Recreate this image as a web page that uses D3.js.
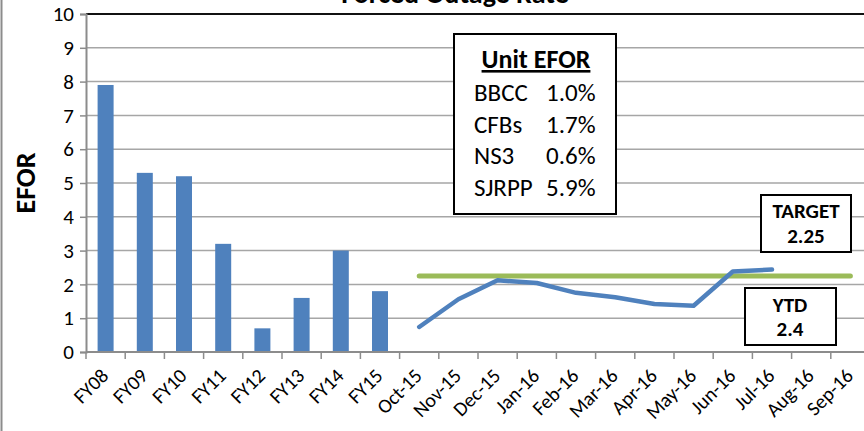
<!DOCTYPE html>
<html>
<head>
<meta charset="utf-8">
<script src="https://cdn.jsdelivr.net/npm/d3@7/dist/d3.min.js"></script>
<style>
  html, body { margin: 0; padding: 0; background: #fff; }
  svg { display: block; font-family: Carlito, Calibri, Lato, "Liberation Sans", sans-serif; }
</style>
</head>
<body>
<svg id="chart" width="864" height="431"></svg>
<script>
const categories = ["FY08","FY09","FY10","FY11","FY12","FY13","FY14","FY15",
  "Oct-15","Nov-15","Dec-15","Jan-16","Feb-16","Mar-16","Apr-16","May-16","Jun-16","Jul-16","Aug-16","Sep-16"];
const barCats = ["FY08","FY09","FY10","FY11","FY12","FY13","FY14","FY15"];
const barValues = [7.9, 5.3, 5.2, 3.2, 0.7, 1.6, 3.0, 1.8];
const lineCats = ["Oct-15","Nov-15","Dec-15","Jan-16","Feb-16","Mar-16","Apr-16","May-16","Jun-16","Jul-16"];
const lineValues = [0.74, 1.56, 2.12, 2.04, 1.75, 1.62, 1.42, 1.37, 2.38, 2.44];
const targetCats = ["Oct-15","Sep-16"];
const targetValue = 2.25;
const ytdValue = 2.4;
const yTicks = [0,1,2,3,4,5,6,7,8,9,10];
const unitNames = ["BBCC","CFBs","NS3","SJRPP"];
const unitValues = ["1.0%","1.7%","0.6%","5.9%"];

const FONT = "Carlito, Calibri, Lato, sans-serif";
const svg = d3.select("#chart");
const mLeft = 86, mRight = 870, mTop = 14, mBottom = 352;

const x = d3.scaleBand().domain(categories).range([mLeft, mRight]).paddingInner(0).paddingOuter(0);
const y = d3.scaleLinear().domain([0, 10]).range([mBottom, mTop]);

// left border
svg.append("line").attr("x1", 1.5).attr("x2", 1.5).attr("y1", 0).attr("y2", 431)
  .attr("stroke", "#8c8c8c").attr("stroke-width", 2);

// title (cut off at the top edge, as in the source)
svg.append("text").attr("x", 455).attr("y", 3).attr("text-anchor", "middle")
  .attr("font-size", 28).attr("font-weight", "bold").attr("fill", "#000")
  .text("Forced Outage Rate");

// gridlines
svg.append("g").selectAll("line").data(yTicks.filter(d => d > 0 && d < 10)).join("line")
  .attr("x1", mLeft).attr("x2", 864).attr("y1", d => y(d)).attr("y2", d => y(d))
  .attr("stroke", "#a6a6a6").attr("stroke-width", 1.5);
svg.append("line").attr("x1", mLeft).attr("x2", 864).attr("y1", y(10)).attr("y2", y(10))
  .attr("stroke", "#111").attr("stroke-width", 2);

// y axis
const yAxis = svg.append("g").attr("transform", `translate(${mLeft},0)`)
  .call(d3.axisLeft(y).tickValues(yTicks).tickSize(6).tickPadding(6).tickFormat(d3.format("d")));
yAxis.select(".domain").attr("stroke", "#8c8c8c").attr("stroke-width", 2);
yAxis.selectAll(".tick line").attr("stroke", "#8c8c8c").attr("stroke-width", 1.5);
yAxis.selectAll(".tick text").attr("font-size", 21).attr("fill", "#000")
  .style("font-family", FONT);

// bars
const barW = 16;
svg.append("g").selectAll("rect").data(barValues).join("rect")
  .attr("x", (d, i) => x(barCats[i]) + x.bandwidth() / 2 - barW / 2)
  .attr("width", barW)
  .attr("y", d => y(d))
  .attr("height", d => y(0) - y(d))
  .attr("fill", "#4f81bd");

// x axis
const xAxis = svg.append("g").attr("transform", `translate(0,${mBottom})`)
  .call(d3.axisBottom(x).tickSize(0).tickFormat(d => d));
xAxis.select(".domain").remove();
svg.append("line").attr("x1", mLeft).attr("x2", 864).attr("y1", mBottom).attr("y2", mBottom)
  .attr("stroke", "#8c8c8c").attr("stroke-width", 2);
svg.append("g").selectAll("line").data(categories).join("line")
  .attr("x1", d => x(d)).attr("x2", d => x(d)).attr("y1", mBottom).attr("y2", mBottom + 7)
  .attr("stroke", "#8c8c8c").attr("stroke-width", 1.5);
xAxis.selectAll(".tick text")
  .attr("font-size", 20).attr("fill", "#000")
  .style("font-family", FONT)
  .attr("text-anchor", "end")
  .attr("dy", null).attr("y", 0)
  .attr("transform", "translate(4,25) rotate(-45)");

// target line
svg.append("line")
  .attr("x1", x(targetCats[0]) + x.bandwidth() / 2)
  .attr("x2", x(targetCats[1]) + x.bandwidth() / 2)
  .attr("y1", y(targetValue)).attr("y2", y(targetValue))
  .attr("stroke", "#9bbb59").attr("stroke-width", 5).attr("stroke-linecap", "round");

// EFOR line
const line = d3.line().x((d, i) => x(lineCats[i]) + x.bandwidth() / 2).y(d => y(d));
svg.append("path").datum(lineValues).attr("d", line)
  .attr("fill", "none").attr("stroke", "#4f81bd").attr("stroke-width", 4.5)
  .attr("stroke-linecap", "round").attr("stroke-linejoin", "round");

// y axis title
svg.append("text").attr("transform", "translate(35,183) rotate(-90)")
  .attr("text-anchor", "middle").attr("font-size", 28).attr("font-weight", "bold")
  .text("EFOR");

// Unit EFOR box
const bx = 454, by = 34, bw = 162, bh = 180;
svg.append("rect").attr("x", bx).attr("y", by).attr("width", bw).attr("height", bh)
  .attr("fill", "#fff").attr("stroke", "#000").attr("stroke-width", 2);
svg.append("text").attr("x", 536).attr("y", 68).attr("text-anchor", "middle")
  .attr("font-size", 26).attr("font-weight", "bold").attr("text-decoration", "underline")
  .text("Unit EFOR");
unitNames.forEach((n, i) => {
  svg.append("text").attr("x", 474).attr("y", 101 + i * 31.7).attr("font-size", 25).text(n);
  svg.append("text").attr("x", 546).attr("y", 101 + i * 31.7).attr("font-size", 25).text(unitValues[i]);
});

// Target box
svg.append("rect").attr("x", 761).attr("y", 195).attr("width", 90).attr("height", 57)
  .attr("fill", "#fff").attr("stroke", "#000").attr("stroke-width", 2);
svg.append("text").attr("x", 806).attr("y", 218).attr("text-anchor", "middle")
  .attr("font-size", 21).attr("font-weight", "bold").text("TARGET");
svg.append("text").attr("x", 806).attr("y", 243).attr("text-anchor", "middle")
  .attr("font-size", 21).attr("font-weight", "bold").text(targetValue.toString());

// YTD box
svg.append("rect").attr("x", 745).attr("y", 288).attr("width", 91).attr("height", 57)
  .attr("fill", "#fff").attr("stroke", "#000").attr("stroke-width", 2);
svg.append("text").attr("x", 790).attr("y", 312).attr("text-anchor", "middle")
  .attr("font-size", 21).attr("font-weight", "bold").text("YTD");
svg.append("text").attr("x", 790).attr("y", 336).attr("text-anchor", "middle")
  .attr("font-size", 21).attr("font-weight", "bold").text(ytdValue.toString());
</script>
</body>
</html>
